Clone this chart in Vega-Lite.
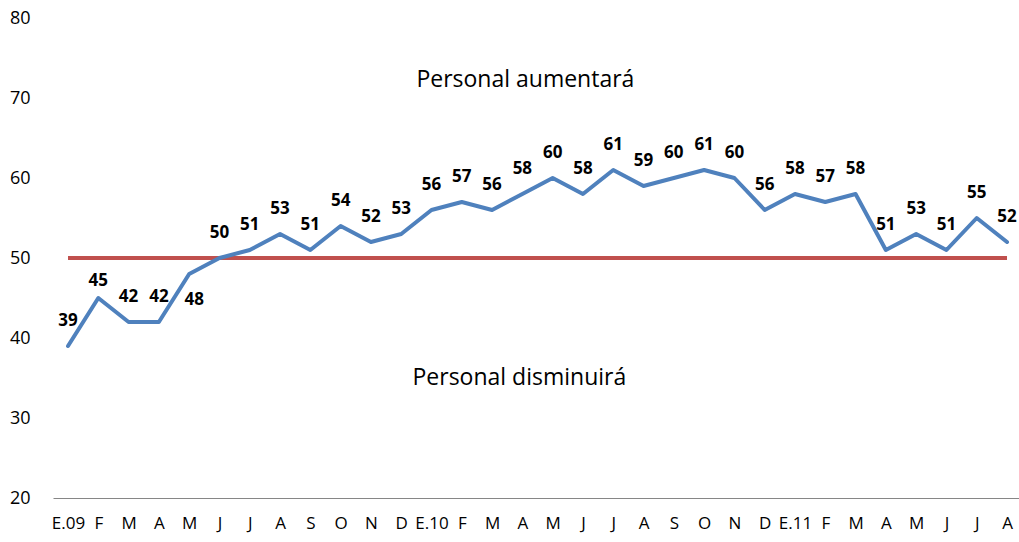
{
  "$schema": "https://vega.github.io/schema/vega-lite/v6.json",
  "width": 966,
  "height": 480,
  "autosize": {"type": "none"},
  "padding": {"left": 53, "top": 18, "right": 0, "bottom": 44},
  "background": "white",
  "config": {"view": {"stroke": null}, "font": "Open Sans"},
  "data": {"values": [
    {"fecha": "2009-01", "v": 39, "ref": 50},
    {"fecha": "2009-02", "v": 45, "ref": 50},
    {"fecha": "2009-03", "v": 42, "ref": 50},
    {"fecha": "2009-04", "v": 42, "ref": 50},
    {"fecha": "2009-05", "v": 48, "ref": 50},
    {"fecha": "2009-06", "v": 50, "ref": 50},
    {"fecha": "2009-07", "v": 51, "ref": 50},
    {"fecha": "2009-08", "v": 53, "ref": 50},
    {"fecha": "2009-09", "v": 51, "ref": 50},
    {"fecha": "2009-10", "v": 54, "ref": 50},
    {"fecha": "2009-11", "v": 52, "ref": 50},
    {"fecha": "2009-12", "v": 53, "ref": 50},
    {"fecha": "2010-01", "v": 56, "ref": 50},
    {"fecha": "2010-02", "v": 57, "ref": 50},
    {"fecha": "2010-03", "v": 56, "ref": 50},
    {"fecha": "2010-04", "v": 58, "ref": 50},
    {"fecha": "2010-05", "v": 60, "ref": 50},
    {"fecha": "2010-06", "v": 58, "ref": 50},
    {"fecha": "2010-07", "v": 61, "ref": 50},
    {"fecha": "2010-08", "v": 59, "ref": 50},
    {"fecha": "2010-09", "v": 60, "ref": 50},
    {"fecha": "2010-10", "v": 61, "ref": 50},
    {"fecha": "2010-11", "v": 60, "ref": 50},
    {"fecha": "2010-12", "v": 56, "ref": 50},
    {"fecha": "2011-01", "v": 58, "ref": 50},
    {"fecha": "2011-02", "v": 57, "ref": 50},
    {"fecha": "2011-03", "v": 58, "ref": 50},
    {"fecha": "2011-04", "v": 51, "ref": 50},
    {"fecha": "2011-05", "v": 53, "ref": 50},
    {"fecha": "2011-06", "v": 51, "ref": 50},
    {"fecha": "2011-07", "v": 55, "ref": 50},
    {"fecha": "2011-08", "v": 52, "ref": 50}
  ]},
  "encoding": {
    "x": {
      "field": "fecha",
      "type": "ordinal",
      "sort": null,
      "scale": {"type": "point", "padding": 0.4457, "align": 0.556},
      "axis": {
        "title": null,
        "labelAngle": 0,
        "ticks": false,
        "domainColor": "#868686",
        "domainWidth": 1,
        "labelPadding": 17,
        "labelFontSize": 17,
        "labelColor": "#000000",
        "labelFont": "Open Sans",
        "labelOverlap": false,
        "labelExpr": "substring(datum.value,5,7)=='01' ? 'E.'+substring(datum.value,2,4) : ['F','M','A','M','J','J','A','S','O','N','D'][toNumber(substring(datum.value,5,7))-2]"
      }
    }
  },
  "layer": [
    {
      "mark": {"type": "line", "color": "#C0504D", "strokeWidth": 4},
      "encoding": {
        "y": {
          "field": "ref",
          "type": "quantitative",
          "scale": {"domain": [20, 80], "nice": false, "zero": false},
          "axis": {
            "title": null,
            "values": [20, 30, 40, 50, 60, 70, 80],
            "grid": false,
            "domain": false,
            "ticks": false,
            "labelPadding": 23,
            "labelFontSize": 18,
            "labelColor": "#000000",
            "labelFont": "Open Sans"
          }
        }
      }
    },
    {
      "mark": {"type": "line", "color": "#4F81BD", "strokeWidth": 4, "strokeJoin": "round", "strokeCap": "round"},
      "encoding": {"y": {"field": "v", "type": "quantitative"}}
    },
    {
      "transform": [{"filter": "datum.fecha != '2009-02' && datum.fecha != '2009-05'"}],
      "mark": {"type": "text", "fontWeight": "bold", "fontSize": 17, "dy": -25, "color": "#000000", "baseline": "middle"},
      "encoding": {"y": {"field": "v", "type": "quantitative"}, "text": {"field": "v"}}
    },
    {
      "transform": [{"filter": "datum.fecha == '2009-02'"}],
      "mark": {"type": "text", "fontWeight": "bold", "fontSize": 17, "dy": -17, "color": "#000000", "baseline": "middle"},
      "encoding": {"y": {"field": "v", "type": "quantitative"}, "text": {"field": "v"}}
    },
    {
      "transform": [{"filter": "datum.fecha == '2009-05'"}],
      "mark": {"type": "text", "fontWeight": "bold", "fontSize": 17, "dx": 5, "dy": 26, "color": "#000000", "baseline": "middle"},
      "encoding": {"y": {"field": "v", "type": "quantitative"}, "text": {"field": "v"}}
    },
    {
      "data": {"values": [{}]},
      "mark": {"type": "text", "text": "Personal aumentará", "fontSize": 23, "color": "#000000", "baseline": "middle", "dx": 3},
      "encoding": {"x": {"datum": "2010-04"}, "y": {"datum": 72.2}}
    },
    {
      "data": {"values": [{}]},
      "mark": {"type": "text", "text": "Personal disminuirá", "fontSize": 23, "color": "#000000", "baseline": "middle", "dx": -3},
      "encoding": {"x": {"datum": "2010-04"}, "y": {"datum": 35}}
    }
  ]
}
